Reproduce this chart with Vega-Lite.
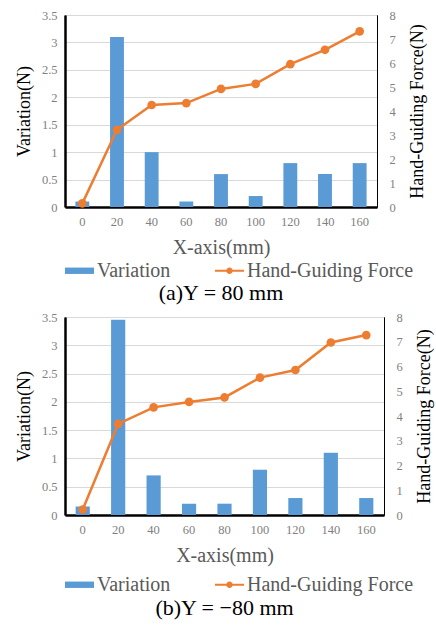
{
  "$schema": "https://vega.github.io/schema/vega-lite/v6.json",
  "padding": {"left": 14, "top": 8, "right": 2, "bottom": 2},
  "config": {
    "font": "Liberation Serif",
    "view": {"stroke": "#000000", "strokeWidth": 1},
    "axis": {"labelFont": "Liberation Serif", "labelFontSize": 12.5, "labelColor": "#7F7F7F", "titleFont": "Liberation Serif", "titleFontWeight": "normal", "titleFontSize": 18, "titleColor": "#000000", "ticks": false, "gridColor": "#D9D9D9", "gridWidth": 1},
    "legend": {
      "orient": "bottom", "direction": "horizontal", "title": null,
      "labelFont": "Liberation Serif", "labelFontSize": 20, "labelColor": "#595959", "labelLimit": 400,
      "symbolSize": 841, "columnPadding": 44, "labelOffset": 3,
      "symbolStrokeWidth": 0
    },
    "title": {"font": "Liberation Serif", "fontWeight": "normal", "fontSize": 22, "color": "#000000"}
  },
  "datasets": {
    "a": [
      {"x": 0, "variation": 0.1, "force": 0.15},
      {"x": 20, "variation": 3.1, "force": 3.22},
      {"x": 40, "variation": 1.0, "force": 4.25},
      {"x": 60, "variation": 0.1, "force": 4.33},
      {"x": 80, "variation": 0.6, "force": 4.92},
      {"x": 100, "variation": 0.2, "force": 5.13},
      {"x": 120, "variation": 0.8, "force": 5.95},
      {"x": 140, "variation": 0.6, "force": 6.55},
      {"x": 160, "variation": 0.8, "force": 7.32}
    ],
    "b": [
      {"x": 0, "variation": 0.15, "force": 0.22},
      {"x": 20, "variation": 3.45, "force": 3.68},
      {"x": 40, "variation": 0.7, "force": 4.35},
      {"x": 60, "variation": 0.2, "force": 4.57},
      {"x": 80, "variation": 0.2, "force": 4.75},
      {"x": 100, "variation": 0.8, "force": 5.55},
      {"x": 120, "variation": 0.3, "force": 5.86},
      {"x": 140, "variation": 1.1, "force": 6.97},
      {"x": 160, "variation": 0.3, "force": 7.27}
    ]
  },
  "vconcat": [
    {
      "width": 312, "height": 192,
      "data": {"name": "a"},
      "title": {"text": "(a)Y = 80 mm", "orient": "bottom", "anchor": "middle", "offset": 2},
      "layer": [
        {
          "mark": {"type": "bar"},
          "encoding": {
            "x": {"field": "x", "type": "ordinal", "scale": {"paddingInner": 0.6, "paddingOuter": 0.3}, "axis": {"title": "X-axis(mm)", "titleColor": "#595959", "titleFontSize": 20, "labelAngle": 0, "labelPadding": 8, "titlePadding": 10, "domainColor": "#000000", "domainWidth": 2.5}},
            "y": {"field": "variation", "type": "quantitative", "scale": {"domain": [0, 3.5]}, "axis": {"title": "Variation(N)", "values": [0, 0.5, 1, 1.5, 2, 2.5, 3, 3.5], "format": "~g", "labelPadding": 8, "titlePadding": 8, "domainColor": "#000000", "domainWidth": 2.5}},
            "color": {"datum": "Variation", "type": "nominal", "scale": {"domain": ["Variation", "Hand-Guiding Force"], "range": ["#5B9BD5", "#ED7D31"]},
              "legend": {"offset": -2, "encode": {"symbols": {"update": {
                "shape": {"signal": "datum.value === 'Variation' ? 'M-1,-0.22H1V0.22H-1Z' : 'M-1,-0.07H1V0.07H-1Z M-0.22,0A0.22,0.22 0 1,1 0.22,0A0.22,0.22 0 1,1 -0.22,0Z'"},
                "fill": {"signal": "datum.value === 'Variation' ? '#5B9BD5' : '#ED7D31'"},
                "strokeWidth": {"value": 0}, "opacity": {"value": 1}, "fillOpacity": {"value": 1}}}}}}
          }
        },
        {
          "mark": {"type": "line", "strokeWidth": 2.5, "point": {"filled": true, "size": 75, "opacity": 1}},
          "encoding": {
            "x": {"field": "x", "type": "ordinal"},
            "y": {"field": "force", "type": "quantitative", "scale": {"domain": [0, 8]}, "axis": {"orient": "right", "title": "Hand-Guiding Force(N)", "titleAngle": 270, "titleBaseline": "top", "grid": false, "values": [0, 1, 2, 3, 4, 5, 6, 7, 8], "labelPadding": 12, "titlePadding": 13, "domainColor": "#000000", "domainWidth": 1}},
            "color": {"datum": "Hand-Guiding Force", "type": "nominal"}
          }
        }
      ],
      "resolve": {"scale": {"y": "independent"}}
    },
    {
      "width": 319, "height": 198,
      "data": {"name": "b"},
      "title": {"text": "(b)Y = −80 mm", "orient": "bottom", "anchor": "middle", "offset": 3},
      "layer": [
        {
          "mark": {"type": "bar"},
          "encoding": {
            "x": {"field": "x", "type": "ordinal", "scale": {"paddingInner": 0.6, "paddingOuter": 0.3}, "axis": {"title": "X-axis(mm)", "titleColor": "#595959", "titleFontSize": 20, "labelAngle": 0, "labelPadding": 8, "titlePadding": 10, "domainColor": "#000000", "domainWidth": 2.5}},
            "y": {"field": "variation", "type": "quantitative", "scale": {"domain": [0, 3.5]}, "axis": {"title": "Variation(N)", "values": [0, 0.5, 1, 1.5, 2, 2.5, 3, 3.5], "format": "~g", "labelPadding": 8, "titlePadding": 8, "domainColor": "#000000", "domainWidth": 2.5}},
            "color": {"datum": "Variation", "type": "nominal", "scale": {"domain": ["Variation", "Hand-Guiding Force"], "range": ["#5B9BD5", "#ED7D31"]},
              "legend": {"offset": 4, "encode": {"symbols": {"update": {
                "shape": {"signal": "datum.value === 'Variation' ? 'M-1,-0.22H1V0.22H-1Z' : 'M-1,-0.07H1V0.07H-1Z M-0.22,0A0.22,0.22 0 1,1 0.22,0A0.22,0.22 0 1,1 -0.22,0Z'"},
                "fill": {"signal": "datum.value === 'Variation' ? '#5B9BD5' : '#ED7D31'"},
                "strokeWidth": {"value": 0}, "opacity": {"value": 1}, "fillOpacity": {"value": 1}}}}}}
          }
        },
        {
          "mark": {"type": "line", "strokeWidth": 2.5, "point": {"filled": true, "size": 75, "opacity": 1}},
          "encoding": {
            "x": {"field": "x", "type": "ordinal"},
            "y": {"field": "force", "type": "quantitative", "scale": {"domain": [0, 8]}, "axis": {"orient": "right", "title": "Hand-Guiding Force(N)", "titleAngle": 270, "titleBaseline": "top", "grid": false, "values": [0, 1, 2, 3, 4, 5, 6, 7, 8], "labelPadding": 12, "titlePadding": 13, "domainColor": "#000000", "domainWidth": 1}},
            "color": {"datum": "Hand-Guiding Force", "type": "nominal"}
          }
        }
      ],
      "resolve": {"scale": {"y": "independent"}}
    }
  ],
  "spacing": 5,
  "resolve": {"scale": {"color": "independent"}}
}
